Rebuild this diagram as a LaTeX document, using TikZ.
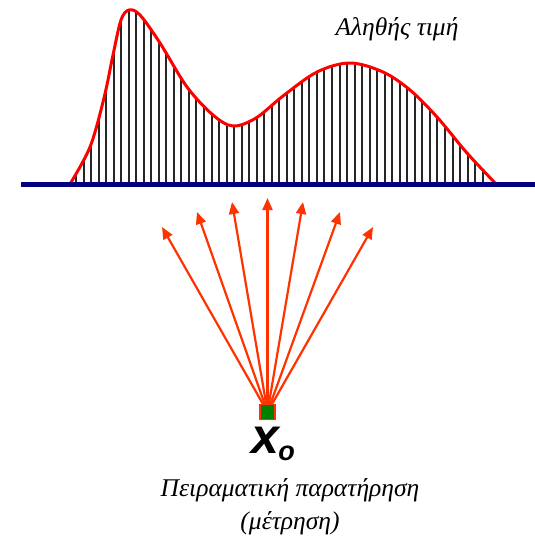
\documentclass[tikz,border=0pt]{standalone}
\usepackage{fontspec}
\setmainfont{Liberation Serif}
\newfontfamily\sanslab{Liberation Sans}
\usetikzlibrary{arrows.meta,positioning,backgrounds}
\definecolor{baseblue}{RGB}{0,0,128}
\definecolor{rayred}{RGB}{255,51,0}
\definecolor{srcgreen}{RGB}{0,128,0}

\begin{document}
\begin{tikzpicture}[x=1pt,y=-1pt,
                    every node/.style={font=\fontsize{25.5}{28}\selectfont\itshape},
                    ray/.style={draw=rayred,line width=2.2pt,-{Triangle[length=12pt,width=10pt]}},
                    hatch/.style={line width=2pt,black!85},
                    truecurve/.style={red,line width=3pt,line join=round,line cap=round}]
  \useasboundingbox (0,0) rectangle (535,539);

  % --- true value distribution (hatched) -----------------------------------
  \def\curvepath{plot[smooth,tension=0.55] coordinates {(70,184) (90,147) (104,98)
      (113,55) (121,20) (129,10) (140,15) (160,43) (187,87) (213,115) (233,126)
      (256,118) (283,96) (317,72) (350,63) (383,72) (410,90) (437,117) (467,153)
      (497,185)}}
  \begin{scope}
    \clip \curvepath -- cycle;
    \foreach \i in {0,...,54}
      \draw[hatch] ({76+7.53*\i},186) -- ++(0,-190);
  \end{scope}
  \draw[truecurve] \curvepath;
  \draw[baseblue,line width=5pt] (21,184.5) -- (535,184.5);
  \node (truelab) at (397,29) {Αληθής τιμή};

  % --- experimental observation -------------------------------------------
  \node[draw=rayred,fill=srcgreen,line width=1.6pt,minimum size=15pt,inner sep=0pt]
       (src) at (267.5,412) {};
  \begin{scope}[on background layer]
    \foreach \n/\x/\y in {1/162/227, 2/197/212, 3/232/202, 4/267.5/198,
                          5/303/202, 6/340/212, 7/373/227}
    {
      \coordinate (tip\n) at (\x,\y);
      \draw[ray] (src.center) -- (tip\n);
    }
  \end{scope}
  \node[font=\sanslab\bfseries\itshape\fontsize{50}{50}\selectfont,inner sep=0pt]
       (xo) at (265,440) {x};
  \node[font=\sanslab\bfseries\itshape\fontsize{27}{27}\selectfont,inner sep=0pt,
        right=0pt of xo.south east,anchor=south west,yshift=-8pt,xshift=-1pt] (xsub) {o};
  \node (obs) at (290,490) {Πειραματική παρατήρηση};
  \node (obs2) at (290,523) {(μέτρηση)};
\end{tikzpicture}
\end{document}
